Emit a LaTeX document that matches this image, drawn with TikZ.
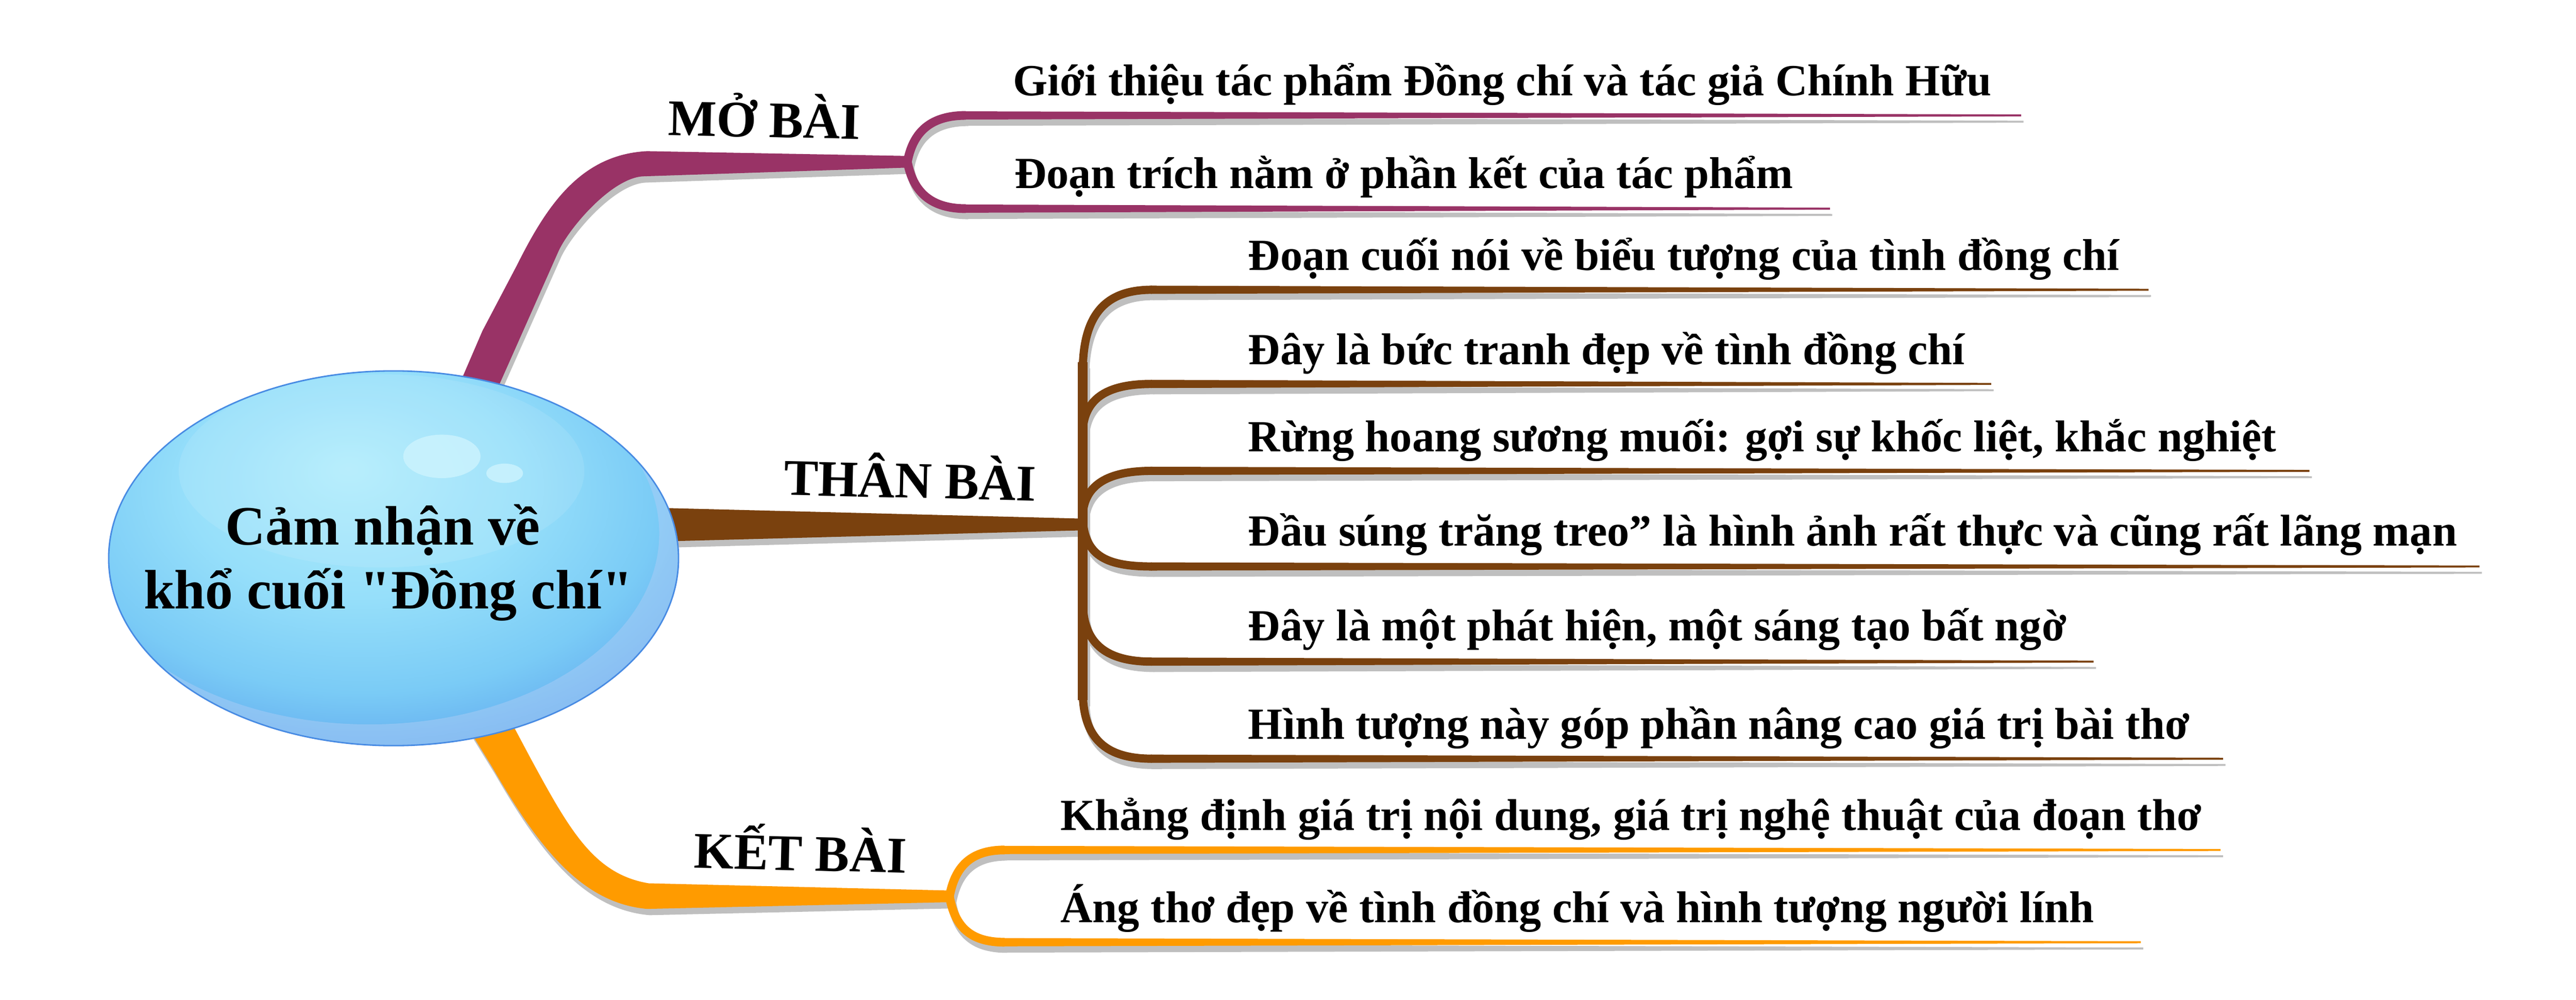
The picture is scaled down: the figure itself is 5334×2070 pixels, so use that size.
\documentclass[tikz,border=0pt]{standalone}
\usepackage{fontspec}
\setmainfont{Liberation Serif}
\newfontfamily\plainserif{Liberation Serif}
\definecolor{purpleB}{RGB}{153,51,102}
\definecolor{brownB}{RGB}{122,65,14}
\definecolor{orangeB}{RGB}{255,155,0}
\definecolor{shad}{RGB}{191,191,191}
\definecolor{bA}{RGB}{176,236,252}
\definecolor{bB}{RGB}{150,223,250}
\definecolor{bC}{RGB}{122,203,246}
\definecolor{bD}{RGB}{92,162,236}
\definecolor{bE}{RGB}{72,139,227}
\definecolor{hl}{RGB}{203,243,254}
\definecolor{cres}{RGB}{178,206,246}
\pgfdeclareradialshading{bubble}{\pgfpoint{-4bp}{12bp}}{color(0bp)=(bA); color(15bp)=(bB); color(26bp)=(bC); color(36bp)=(bD); color(45bp)=(bE); color(80bp)=(bE)}
\colorlet{cP}{purpleB}\colorlet{cB}{brownB}\colorlet{cO}{orangeB}
\newcommand\uline[4]{\fill[#4] (#1,#3-8.5) -- (#2,#3-2) -- (#2,#3+2) -- (#1,#3+8.5) -- cycle;}
\newcommand\drawall{%
  % purple main branch
  \fill[cP] (915,880) -- (999,685) -- (1070,550) .. controls (1130,430) and (1200,320) .. (1340,313) -- (1880,323) -- (1880,347) -- (1335,365) .. controls (1270,365) and (1180,470) .. (1157,519) -- (1034,796) -- (1000,880) -- cycle;
  \draw[cP, line width=0.18cm] (1878,340) .. controls (1888,280) and (1920,239) .. (2000,239);
  \draw[cP, line width=0.18cm] (1878,330) .. controls (1888,390) and (1920,432) .. (2000,432);
  \uline{1998}{4185}{239}{cP}
  \uline{1998}{3789}{432}{cP}
  % brown main branch
  \fill[cB] (1300,1050) -- (2246,1074) -- (2246,1098) -- (1300,1123) -- cycle;
  \draw[cB, line width=0.2cm] (2242,750) -- (2242,1450);
  \draw[cB, line width=0.17cm] (2242,770) .. controls (2242,650) and (2290,600) .. (2385,600);
  \draw[cB, line width=0.17cm] (2243,880) .. controls (2252,820) and (2300,795) .. (2385,795);
  \draw[cB, line width=0.17cm] (2243,1055) .. controls (2252,1000) and (2300,975) .. (2385,975);
  \draw[cB, line width=0.17cm] (2243,1088) .. controls (2252,1150) and (2290,1173) .. (2385,1173);
  \draw[cB, line width=0.17cm] (2243,1265) .. controls (2250,1340) and (2300,1370) .. (2385,1370);
  \draw[cB, line width=0.17cm] (2242,1430) .. controls (2242,1530) and (2290,1571) .. (2385,1571);
  \uline{2383}{4449}{600}{cB}
  \uline{2383}{4123}{795}{cB}
  \uline{2383}{4782}{975}{cB}
  \uline{2383}{5134}{1173}{cB}
  \uline{2383}{4335}{1370}{cB}
  \uline{2383}{4603}{1571}{cB}
  % orange main branch
  \fill[cO] (940,1460) -- (1019,1588) .. controls (1110,1745) and (1200,1870) .. (1340,1882) -- (1968,1868) -- (1968,1844) -- (1343,1829) .. controls (1230,1810) and (1180,1720) .. (1098,1569) -- (1040,1460) -- cycle;
  \draw[cO, line width=0.18cm] (1965,1862) .. controls (1975,1800) and (2005,1760) .. (2080,1760);
  \draw[cO, line width=0.18cm] (1965,1850) .. controls (1975,1915) and (2005,1951) .. (2080,1951);
  \uline{2078}{4598}{1760}{cO}
  \uline{2078}{4433}{1951}{cO}
}
\tikzset{
  itemtext/.style={anchor=base west, inner sep=0pt, font=\fontsize{26.2}{30}\selectfont\bfseries},
  headtext/.style={anchor=base west, inner sep=0pt, font=\fontsize{30.2}{34}\selectfont\bfseries},
  centertext/.style={anchor=base, inner sep=0pt, font=\plainserif\fontsize{32.7}{38}\selectfont\bfseries}
}
\begin{document}
\begin{tikzpicture}[x=0.01cm,y=-0.01cm]
\useasboundingbox (0,0) rectangle (5334,2070);
\fill[white] (0,0) rectangle (5334,2070);
% shadows
\begin{scope}[shift={(5,13)}]
  \colorlet{cP}{shad}\colorlet{cB}{shad}\colorlet{cO}{shad}
  \drawall
\end{scope}
% coloured branches
\drawall
% central bubble
\begin{scope}
  \clip (815,1156) ellipse [x radius=590, y radius=388];
  \shade[shading=bubble] (225,768) rectangle (1405,1544);
  \fill[white, opacity=0.10] (790,975) ellipse [x radius=420, y radius=200];
  \fill[cres, opacity=0.45, even odd rule] (815,1156) ellipse [x radius=590, y radius=388] (765,1105) ellipse [x radius=600, y radius=395];
  \fill[hl, opacity=0.85] (915,945) ellipse [x radius=80, y radius=45];
  \fill[hl, opacity=0.85] (1045,980) ellipse [x radius=38, y radius=20];
\end{scope}
\draw[bE, line width=0.03cm] (815,1156) ellipse [x radius=590, y radius=388];
\node[centertext] (c1) at (793,1128) {Cảm nhận về};
\node[centertext] (c2) at (804,1260) {khổ cuối "Đồng chí"};
% headings
\node[headtext, rotate=-1.2] (lmb) at (1382,280) {MỞ BÀI};
\node[headtext, rotate=-1.3] (ltb) at (1622,1025) {THÂN BÀI};
\node[headtext, rotate=-1.4] (lkb) at (1436,1797) {KẾT BÀI};
% items
\node[itemtext] (mb1) at (2097,198) {Giới thiệu tác phẩm Đồng chí và tác giả Chính Hữu};
\node[itemtext] (mb2) at (2100,390) {Đoạn trích nằm ở phần kết của tác phẩm};
\node[itemtext] (tb1) at (2584,560) {Đoạn cuối nói về biểu tượng của tình đồng chí};
\node[itemtext] (tb2) at (2584,755) {Đây là bức tranh đẹp về tình đồng chí};
\node[itemtext] (tb3) at (2584,935) {Rừng hoang sương muối: gợi sự khốc liệt, khắc nghiệt};
\node[itemtext] (tb4) at (2584,1130) {Đầu súng trăng treo” là hình ảnh rất thực và cũng rất lãng mạn};
\node[itemtext] (tb5) at (2584,1327) {Đây là một phát hiện, một sáng tạo bất ngờ};
\node[itemtext] (tb6) at (2584,1530) {Hình tượng này góp phần nâng cao giá trị bài thơ};
\node[itemtext] (kb1) at (2195,1719) {Khẳng định giá trị nội dung, giá trị nghệ thuật của đoạn thơ};
\node[itemtext] (kb2) at (2195,1910) {Áng thơ đẹp về tình đồng chí và hình tượng người lính};
\end{tikzpicture}
\end{document}
